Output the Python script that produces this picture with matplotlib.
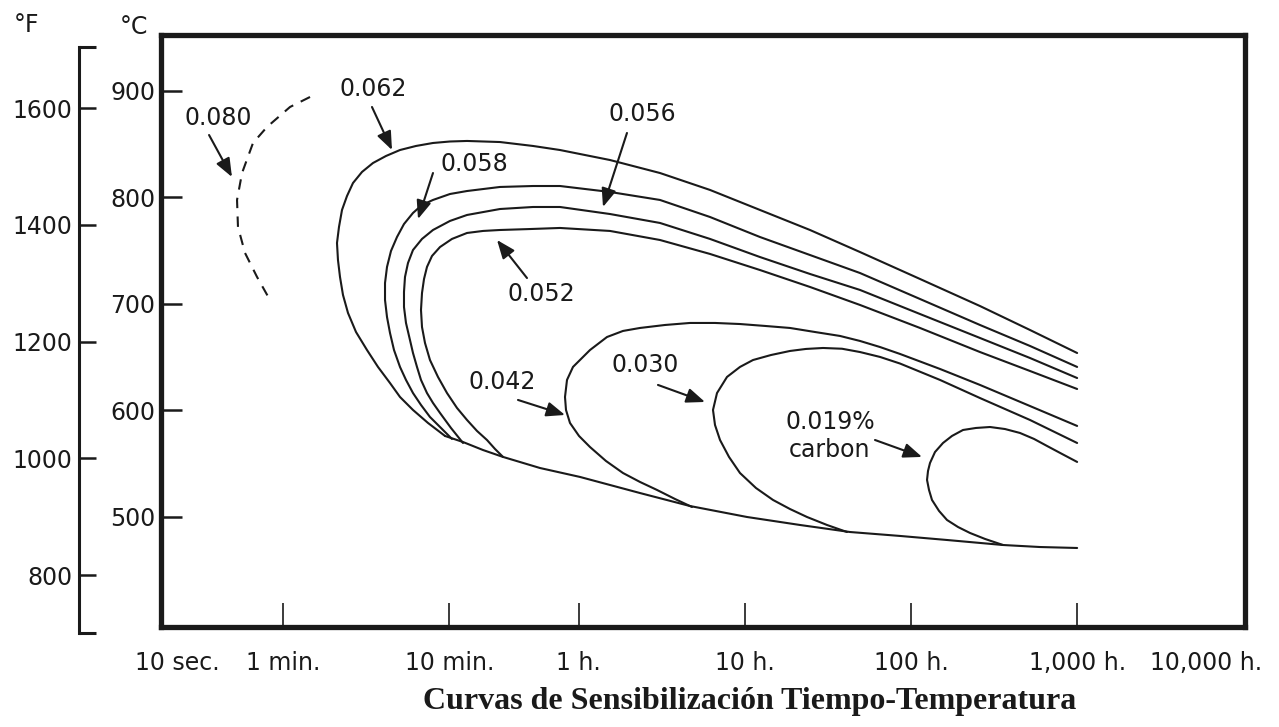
import matplotlib
matplotlib.use("Agg")
import matplotlib.pyplot as plt
from matplotlib.ticker import NullLocator, FixedLocator

# ---------------- data (time in minutes, temperature in °C) ----------------
c080_t = [1.454, 1.102, 0.801, 0.660, 0.567, 0.529, 0.536, 0.591, 0.698, 0.835]
c080_T = [894.1, 884.7, 865.9, 850.9, 822.7, 797.4, 772.0, 747.6, 725.1, 703.5]

c062_t = [9.434, 7.455, 6.056, 5.058, 4.404, 3.729, 3.202, 2.750, 2.461, 2.296, 2.203,
          2.142, 2.113, 2.172, 2.265, 2.427, 2.637, 2.988, 3.479, 4.167, 5.058, 6.313,
          7.989, 10.11, 12.80, 20.21, 31.93, 46.42, 92.80, 185.5, 370.9, 741.3, 1482,
          2963, 6804, 15620, 31230, 60000]
c062_T = [575.8, 588.0, 600.2, 612.4, 625.5, 640.6, 656.5, 673.4, 691.3, 708.2, 725.1,
          741.0, 757.0, 772.0, 788.0, 801.1, 813.3, 823.7, 832.1, 838.7, 844.3, 848.1,
          850.9, 852.3, 852.8, 851.8, 848.1, 844.3, 834.9, 822.7, 806.8, 788.0, 769.2,
          748.5, 723.2, 697.8, 675.3, 653.7]

c058_t = [10.39, 8.927, 7.663, 6.766, 6.056, 5.496, 5.058, 4.655, 4.404, 4.225, 4.110,
          4.110, 4.225, 4.465, 4.852, 5.346, 6.056, 6.861, 7.989, 10.11, 12.80, 20.21,
          31.93, 46.42, 92.80, 185.5, 370.9, 741.3, 1482, 2963, 6804, 15620, 31230, 60000]
c058_T = [573.0, 583.3, 593.6, 604.9, 616.1, 628.4, 640.6, 656.5, 672.5, 687.5, 703.5,
          719.4, 734.5, 749.5, 762.6, 774.8, 785.2, 792.7, 797.4, 803.0, 805.8, 809.6,
          810.5, 810.5, 804.9, 797.4, 781.4, 762.6, 745.7, 728.8, 704.4, 680.0, 660.3, 640.6]

c056_t = [12.11, 10.25, 8.805, 7.989, 7.351, 6.766, 6.401, 6.056, 5.808, 5.496, 5.346,
          5.346, 5.421, 5.650, 6.056, 6.861, 7.989, 10.11, 12.80, 20.21, 31.93, 46.42,
          92.80, 185.5, 370.9, 741.3, 1482, 2963, 6804, 15620, 31230, 60000]
c056_T = [569.2, 583.3, 597.4, 606.8, 616.1, 628.4, 640.6, 653.7, 665.9, 681.9, 696.9,
          711.0, 725.1, 738.2, 750.4, 760.8, 769.2, 777.7, 783.3, 788.9, 790.8, 790.8,
          784.2, 775.8, 760.8, 743.8, 727.9, 712.9, 690.3, 667.8, 649.0, 630.2]

c052_t = [21.08, 18.86, 16.88, 14.70, 12.80, 11.14, 9.701, 8.562, 7.663, 7.152, 6.861,
          6.766, 6.861, 7.055, 7.351, 7.880, 8.805, 10.39, 12.80, 15.97, 20.21, 30.64,
          46.42, 92.80, 185.5, 370.9, 741.3, 1482, 2963, 6804, 15620, 31230, 60000]
c052_T = [556.1, 563.6, 572.0, 580.5, 590.8, 602.1, 616.1, 631.2, 647.1, 663.1, 678.1,
          694.1, 710.0, 723.2, 734.5, 744.8, 753.2, 760.8, 766.4, 768.3, 769.2, 770.1,
          771.1, 768.3, 759.8, 746.7, 731.6, 715.7, 698.8, 677.2, 654.6, 636.8, 619.9]

c042_t = [289.0, 228.4, 177.9, 140.6, 111.1, 87.77, 70.35, 60.40, 53.31, 50.44, 49.75,
          51.15, 55.58, 70.35, 89.0, 111.1, 140.6, 198.8, 281.1, 397.5, 561.9, 794.5,
          1123, 1589, 2246, 2963, 3909, 5158, 8977, 15620, 31230, 60000]
c042_T = [509.1, 516.6, 525.1, 532.6, 541.0, 552.3, 565.4, 575.8, 588.0, 600.2, 612.4,
          628.4, 640.6, 656.5, 668.7, 674.4, 677.2, 680.0, 681.9, 681.9, 680.9, 679.1,
          677.2, 673.4, 669.7, 665.0, 659.3, 652.8, 638.7, 623.7, 603.9, 585.2]

c030_t = [2475, 1876, 1422, 1123, 887.8, 701.5, 561.9, 482.6, 426.1, 397.5, 386.6,
          408.7, 469.4, 561.9, 673.0, 863.4, 1123, 1402, 1775, 2309, 2963, 3909, 5158,
          8977, 15620, 31230, 60000]
c030_T = [485.6, 492.2, 499.7, 507.2, 515.7, 526.9, 541.0, 556.1, 572.0, 586.1, 600.2,
          616.1, 631.2, 640.6, 647.1, 651.8, 655.6, 657.5, 658.4, 657.7, 654.6, 650.0,
          643.8, 628.4, 611.4, 590.8, 569.2]

c019_t = [21480, 16740, 13600, 11520, 9890, 8855, 8034, 7708, 7500, 7602, 7815, 8375,
          9357, 10600, 12345, 14780, 17950, 22090, 27190, 33020, 39540, 48660, 60000]
c019_T = [473.4, 479.1, 484.7, 490.3, 496.9, 505.4, 515.7, 525.1, 534.5, 542.9, 550.4,
          560.7, 569.2, 575.8, 581.4, 583.3, 584.2, 582.3, 578.6, 573.0, 566.4, 558.9, 551.4]

envelope_t = [9.434, 12.11, 15.97, 21.08, 35.18, 61.24, 140.6, 281.1, 619.2, 1290, 2580,
              5158, 9890, 21480, 35870, 60000]
envelope_T = [575.8, 570.1, 562.6, 556.1, 545.7, 537.3, 522.2, 510.0, 499.7, 492.2,
              485.6, 481.9, 478.1, 473.4, 471.5, 470.6]

tick_minutes = [1 / 6, 1, 10, 60, 600, 6000, 60000, 600000]
tick_labels = ["10 sec.", "1 min.", "10 min.", "1 h.", "10 h.", "100 h.", "1,000 h.",
               "10,000 h."]
celsius_ticks = [500, 600, 700, 800, 900]
fahrenheit_ticks = [800, 1000, 1200, 1400, 1600]

# curve labels: text, text position, arrow tail, arrow tip (minutes, °C)
curve_labels = [
    ("0.080", (0.406, 874.4), (0.359, 858.4), (0.493, 819.0)),
    ("0.062", (3.479, 901.6), (3.431, 884.7), (4.527, 844.3)),
    ("0.058", (14.10, 831.2), (7.989, 822.7), (6.492, 779.5)),
    ("0.056", (144.6, 878.1), (117.4, 860.3), (84.22, 790.8)),
    ("0.052", (35.67, 709.1), (29.38, 724.1), (19.40, 759.8)),
    ("0.042", (20.78, 626.5), (25.94, 609.6), (49.75, 595.5)),
    ("0.030", (150.7, 642.4), (180.4, 623.7), (346.0, 607.7)),
    ("0.019%\ncarbon", (1955, 575.8), (3648, 572.0), (6996, 556.1)),
]

# ---------------- drawing ----------------
INK = "#1a1a1a"
plt.rcParams["font.family"] = ["DejaVu Sans"]
W, H = 1279, 727
fig = plt.figure(figsize=(W / 100, H / 100), dpi=100)
fig.patch.set_facecolor("white")

ax = fig.add_axes([161 / W, 1 - 627 / H, (1245 - 161) / W, (627 - 35) / H])
ax.set_xscale("log")
ax.set_xlim(0.1845, 614100)
ax.set_ylim(396.4, 952.3)

line_kw = dict(color=INK, lw=1.5, solid_joinstyle="round", solid_capstyle="round")
ax.plot(c080_t, c080_T, color=INK, lw=1.5, linestyle=(0, (5, 4)))
for t, T in [(c062_t, c062_T), (c058_t, c058_T), (c056_t, c056_T), (c052_t, c052_T),
             (c042_t, c042_T), (c030_t, c030_T), (c019_t, c019_T),
             (envelope_t, envelope_T)]:
    ax.plot(t, T, **line_kw)

for text, txy, tail, tip in curve_labels:
    ax.text(txy[0], txy[1], text, ha="center", va="center", fontsize=17, color=INK,
            linespacing=1.2)
    ax.annotate("", xy=tip, xytext=tail,
                arrowprops=dict(arrowstyle="-|>,head_length=0.8,head_width=0.32",
                                lw=1.5, color=INK, shrinkA=0, shrinkB=0,
                                mutation_scale=14))

for s in ax.spines.values():
    s.set_linewidth(3.8)
    s.set_color(INK)

ax.set_yticks(celsius_ticks)
ax.tick_params(axis="y", direction="in", length=15, width=1.8, pad=4,
               labelsize=17, colors=INK)
ax.set_xticks(tick_minutes[1:-1], tick_labels[1:-1])
ax.xaxis.set_minor_locator(NullLocator())
ax.tick_params(axis="x", direction="in", length=17, width=1.2, pad=17,
               labelsize=17, colors=INK)
ax.annotate(tick_labels[0], xy=(tick_minutes[0], 0), xycoords=("data", "axes fraction"),
            xytext=(17.3, -17), textcoords="offset points", ha="center", va="top",
            fontsize=17, color=INK, annotation_clip=False)
ax.annotate(tick_labels[-1], xy=(tick_minutes[-1], 0), xycoords=("data", "axes fraction"),
            xytext=(-26.6, -17), textcoords="offset points", ha="center", va="top",
            fontsize=17, color=INK, annotation_clip=False)

# Fahrenheit scale
axF = fig.add_axes([79 / W, 1 - 633 / H, 0.02, (633 - 47) / H])
axF.set_ylim(701, 1704.5)
axF.patch.set_visible(False)
for k in ["top", "right", "bottom"]:
    axF.spines[k].set_visible(False)
axF.spines["left"].set_linewidth(2.2)
axF.spines["left"].set_color(INK)
axF.set_xticks([])
axF.set_yticks(fahrenheit_ticks)
axF.yaxis.set_minor_locator(FixedLocator([701, 1704.5]))
axF.tick_params(axis="y", which="major", direction="in", length=12, width=1.8, pad=5,
                labelsize=17, colors=INK)
axF.tick_params(axis="y", which="minor", direction="in", length=12, width=2.2,
                colors=INK)

fig.text(26 / W, 1 - 25 / H, "°F", ha="center", va="center", fontsize=17, color=INK)
fig.text(134 / W, 1 - 27 / H, "°C", ha="center", va="center", fontsize=17, color=INK)

fig.text(750 / W, 1 - 701 / H, "Curvas de Sensibilización Tiempo-Temperatura",
         ha="center", va="center", fontsize=23, fontweight="bold",
         family="Liberation Serif", color=INK)

fig.savefig("out.png", dpi=100, facecolor="white")
